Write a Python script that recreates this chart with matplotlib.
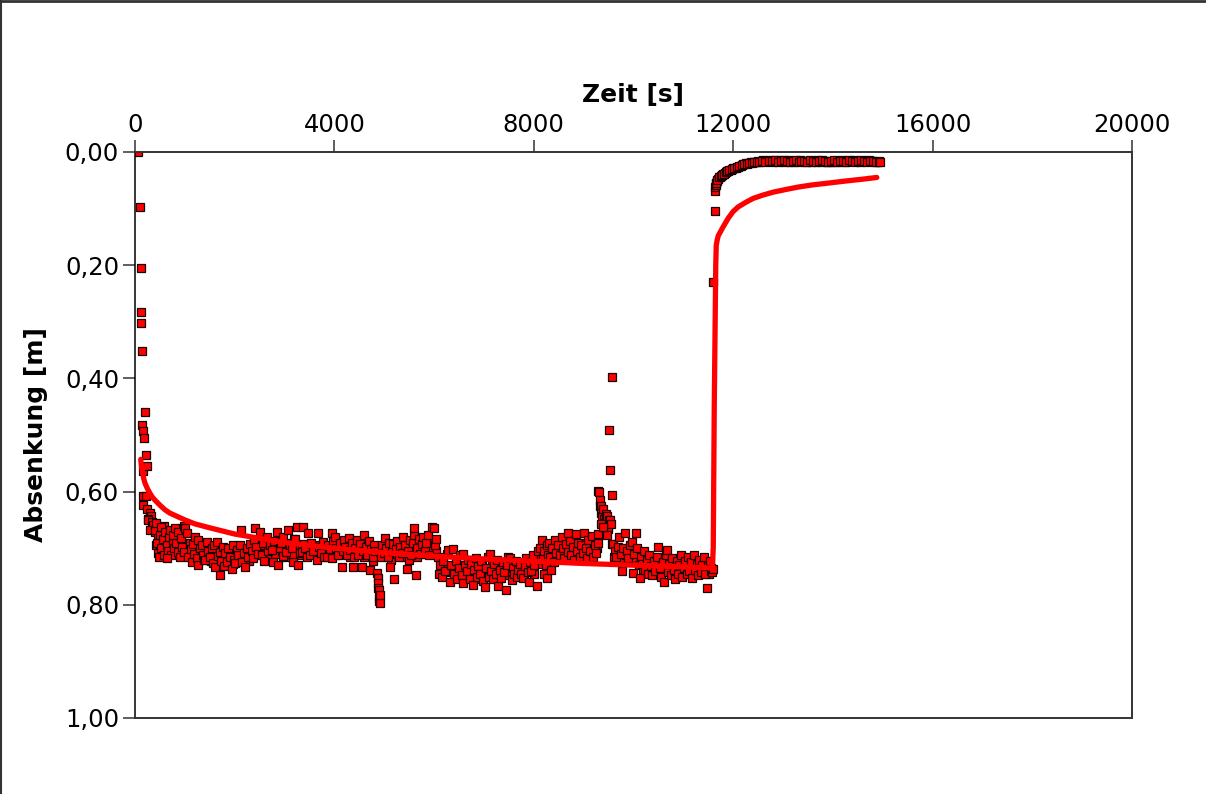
import matplotlib
matplotlib.use("Agg")
import matplotlib.pyplot as plt
from matplotlib.lines import Line2D

# ---------------- data ----------------
x_ticks = [0, 4000, 8000, 12000, 16000, 20000]
x_ticklabels = ["0", "4000", "8000", "12000", "16000", "20000"]
y_ticks = [0.0, 0.2, 0.4, 0.6, 0.8, 1.0]
y_ticklabels = ["0,00", "0,20", "0,40", "0,60", "0,80", "1,00"]
x_label = "Zeit [s]"
y_label = "Absenkung [m]"

# early drawdown points
t_early = [60, 100, 115, 118, 125, 135, 146, 166, 170, 175, 200, 220, 235,
           160, 230, 165, 250, 300, 320, 260, 270, 340, 370, 300, 400]
s_early = [0.000, 0.097, 0.205, 0.283, 0.302, 0.351, 0.482, 0.564, 0.493, 0.506,
           0.459, 0.535, 0.555, 0.608, 0.608, 0.624, 0.631, 0.637, 0.643, 0.648,
           0.650, 0.653, 0.659, 0.668, 0.671]

# pumping phase cloud
t_pump = [
    410, 440, 470, 500, 530, 560, 590, 420, 480, 520, 580,
    610, 640, 660, 690, 710, 730, 760, 780, 650, 770,
    805, 830, 860, 870, 900, 930, 950, 980, 990,
    1005, 1036, 1070, 1100, 1120, 1150, 1170, 1190,
    1210, 1240, 1270, 1270, 1300, 1337, 1360, 1390, 1404,
    1438, 1460, 1500, 1538, 1560, 1590, 1605,
    1638, 1660, 1705, 1705, 1730, 1760, 1790,
    1805, 1839, 1870, 1900, 1939, 1960, 1990,
    2006, 2040, 2073, 2110, 2127, 2140, 2180,
    2207, 2240, 2270, 2307, 2340, 2374, 2390,
    2407, 2430, 2460, 2508, 2541, 2570, 2590,
    2641, 2670, 2700, 2742, 2775, 2790,
    2842, 2875, 2900, 2930, 2960, 2976,
    3030, 3076, 3100, 3143, 3176, 3190,
    3210, 3243, 3277, 3300, 3344, 3377, 3390,
    3420, 3450, 3477, 3511, 3540, 3580,
    3644, 3678, 3700, 3740, 3778, 3790,
    3845, 3870, 3910, 3945, 3945, 3980,
    4010, 4040, 4080, 4110, 4146, 4170, 4190,
    4220, 4260, 4290, 4320, 4350, 4380, 4395,
    4420, 4450, 4480, 4510, 4547, 4570, 4600,
    4630, 4660, 4690, 4714, 4740, 4770, 4790,
    4820, 4850, 4870, 4880, 4880, 4890, 4900, 4895, 4905, 4910, 4930, 4960, 4990,
    5015, 5040, 5070, 5100, 5116, 5150, 5180,
    5203, 5230, 5260, 5290, 5320, 5350, 5380,
    5420, 5450, 5480, 5510, 5540, 5570, 5590,
    5604, 5637, 5660, 5690, 5720, 5750, 5780,
    5810, 5840, 5870, 5900, 5952, 5998, 6010, 6030,
    6080, 6110, 6152, 6180, 6220, 6250, 6286,
    6320, 6340, 6373, 6400, 6430, 6460, 6490,
    6520, 6550, 6587, 6587, 6620, 6650, 6690,
    6720, 6750, 6787, 6810, 6840, 6870, 6890,
    6920, 6950, 6980, 7021, 7050, 7080, 7095,
    7122, 7150, 7180, 7210, 7240, 7270, 7289,
    7320, 7350, 7380, 7410, 7443, 7470, 7490,
    7523, 7557, 7580, 7610, 7640, 7670, 7690,
    7720, 7750, 7791, 7820, 7850, 7880, 7900,
    7920, 7950, 7980, 8010, 8057, 8080,
    8125, 8158, 8180, 8210, 8240, 8270, 8290,
    8305, 8330, 8360, 8400, 8425, 8450, 8480,
    8520, 8558, 8580, 8610, 8640, 8679, 8690,
    8720, 8750, 8780, 8810, 8839, 8860, 8890,
    8920, 8950, 8980, 9013, 9040, 9070, 9090,
    9120, 9160, 9190, 9220, 9250, 9281, 9290,
    8200, 8260, 8350,
    9288, 9308, 9320, 9330, 9341, 9348, 9360, 9380, 9400, 9420, 9440, 9461,
    9481, 9495, 9510, 9508, 9528, 9540, 9562, 9569, 9528, 9470, 9350, 9390,
    9575, 9595, 9620, 9650, 9680, 9716, 9740, 9763, 9790,
    9830, 9860, 9890, 9920, 9963, 9983, 10010, 10050, 10080,
    10130, 10150, 10180, 10210, 10240, 10270, 10290,
    10320, 10350, 10380, 10410, 10440, 10470, 10500,
    10530, 10560, 10590, 10620, 10650, 10665, 10690,
    10720, 10750, 10780, 10810, 10840, 10870, 10890,
    10920, 10950, 10980, 11010, 11040, 11070, 11095,
    11120, 11150, 11180, 11210, 11240, 11270, 11290,
    11320, 11350, 11380, 11410, 11440, 11468, 11500, 11530, 11560, 11575, 11590,
]
s_pump = [
    0.668, 0.690, 0.708, 0.676, 0.700, 0.684, 0.660, 0.655, 0.715, 0.662, 0.712,
    0.672, 0.695, 0.705, 0.680, 0.668, 0.712, 0.690, 0.700, 0.718, 0.676,
    0.665, 0.690, 0.706, 0.671, 0.715, 0.682, 0.697, 0.707, 0.660,
    0.665, 0.674, 0.715, 0.690, 0.702, 0.725, 0.692, 0.710,
    0.681, 0.718, 0.686, 0.730, 0.700, 0.695, 0.712, 0.720, 0.721,
    0.689, 0.705, 0.716, 0.700, 0.727, 0.695, 0.733,
    0.689, 0.714, 0.706, 0.748, 0.722, 0.698, 0.731,
    0.709, 0.724, 0.700, 0.715, 0.736, 0.694, 0.720,
    0.727, 0.704, 0.712, 0.695, 0.667, 0.724, 0.708,
    0.733, 0.700, 0.715, 0.692, 0.705, 0.718, 0.685,
    0.665, 0.698, 0.710, 0.671, 0.712, 0.690, 0.722,
    0.680, 0.705, 0.694, 0.703, 0.724, 0.688,
    0.671, 0.730, 0.700, 0.690, 0.714, 0.680,
    0.706, 0.667, 0.695, 0.700, 0.724, 0.684,
    0.683, 0.662, 0.730, 0.708, 0.706, 0.662, 0.693,
    0.700, 0.716, 0.674, 0.712, 0.690, 0.705,
    0.721, 0.674, 0.698, 0.708, 0.689, 0.715,
    0.715, 0.694, 0.702, 0.674, 0.718, 0.688,
    0.680, 0.700, 0.712, 0.690, 0.734, 0.705, 0.685,
    0.698, 0.712, 0.682, 0.703, 0.690, 0.734, 0.716,
    0.700, 0.686, 0.712, 0.693, 0.734, 0.705, 0.676,
    0.698, 0.712, 0.688, 0.739, 0.702, 0.716, 0.694,
    0.705, 0.743, 0.752, 0.761, 0.770, 0.773, 0.788, 0.794, 0.797, 0.782, 0.715, 0.695, 0.708,
    0.682, 0.700, 0.715, 0.690, 0.734, 0.705, 0.693,
    0.755, 0.702, 0.688, 0.716, 0.698, 0.708, 0.680,
    0.695, 0.737, 0.705, 0.686, 0.712, 0.690, 0.676,
    0.664, 0.748, 0.700, 0.684, 0.710, 0.692, 0.680,
    0.705, 0.690, 0.676, 0.712, 0.662, 0.665, 0.695, 0.684,
    0.715, 0.730, 0.750, 0.722, 0.740, 0.710, 0.703,
    0.759, 0.730, 0.701, 0.745, 0.722, 0.755, 0.735,
    0.712, 0.748, 0.711, 0.762, 0.730, 0.740, 0.720,
    0.755, 0.728, 0.765, 0.738, 0.718, 0.750, 0.732,
    0.745, 0.722, 0.758, 0.769, 0.735, 0.715, 0.750,
    0.711, 0.740, 0.755, 0.728, 0.745, 0.720, 0.767,
    0.738, 0.752, 0.725, 0.742, 0.773, 0.730, 0.715,
    0.717, 0.757, 0.735, 0.745, 0.722, 0.750, 0.738,
    0.728, 0.745, 0.753, 0.732, 0.718, 0.742, 0.760,
    0.725, 0.740, 0.712, 0.730, 0.766, 0.705,
    0.700, 0.686, 0.718, 0.705, 0.730, 0.695, 0.712,
    0.690, 0.715, 0.700, 0.725, 0.685, 0.708, 0.694,
    0.712, 0.680, 0.700, 0.718, 0.692, 0.674, 0.706,
    0.688, 0.712, 0.698, 0.720, 0.675, 0.705, 0.690,
    0.715, 0.695, 0.708, 0.674, 0.700, 0.718, 0.686,
    0.705, 0.678, 0.715, 0.695, 0.708, 0.675, 0.690,
    0.745, 0.752, 0.738,
    0.599, 0.600, 0.615, 0.625, 0.625, 0.637, 0.643, 0.630, 0.648, 0.655, 0.640, 0.643,
    0.660, 0.666, 0.650, 0.491, 0.650, 0.658, 0.606, 0.398, 0.562, 0.676, 0.658, 0.662,
    0.692, 0.692, 0.705, 0.715, 0.698, 0.680, 0.710, 0.740, 0.700,
    0.674, 0.705, 0.718, 0.695, 0.689, 0.743, 0.710, 0.674, 0.700,
    0.752, 0.715, 0.728, 0.705, 0.738, 0.720, 0.745,
    0.712, 0.732, 0.748, 0.722, 0.740, 0.715, 0.698,
    0.735, 0.750, 0.725, 0.759, 0.712, 0.703, 0.742,
    0.728, 0.748, 0.718, 0.738, 0.755, 0.722, 0.745,
    0.730, 0.712, 0.750, 0.735, 0.722, 0.745, 0.715,
    0.740, 0.725, 0.752, 0.712, 0.738, 0.728, 0.748,
    0.720, 0.742, 0.730, 0.715, 0.745, 0.770, 0.732, 0.722, 0.740, 0.742, 0.737,
]

# additional readings filling the dense core of the pumping cloud (time, drawdown)
pump_core = [
    (425, 0.695), (455, 0.680), (505, 0.705), (545, 0.693), (575, 0.675), (625, 0.688),
    (675, 0.700), (720, 0.690), (745, 0.708), (795, 0.685), (845, 0.698), (885, 0.688),
    (915, 0.702), (965, 0.690), (1050, 0.700), (1085, 0.710), (1135, 0.695), (1185, 0.720),
    (1225, 0.700), (1285, 0.708), (1320, 0.715), (1375, 0.700), (1420, 0.710), (1480, 0.698),
    (1520, 0.722), (1575, 0.710), (1620, 0.718), (1680, 0.728), (1745, 0.712), (1775, 0.705),
    (1820, 0.716), (1855, 0.730), (1920, 0.705), (1975, 0.728), (2020, 0.715), (2090, 0.720),
    (2160, 0.700), (2220, 0.710), (2290, 0.722), (2355, 0.698), (2420, 0.712), (2480, 0.700),
    (2525, 0.695), (2620, 0.712), (2690, 0.718), (2720, 0.690), (2810, 0.710), (2860, 0.695),
    (2950, 0.705), (3010, 0.715), (3050, 0.690), (3120, 0.710), (3160, 0.712), (3230, 0.698),
    (3320, 0.712), (3360, 0.695), (3440, 0.705), (3500, 0.695), (3560, 0.712), (3620, 0.700),
    (3660, 0.710), (3720, 0.695), (3760, 0.702), (3820, 0.708), (3890, 0.712), (3960, 0.700),
    (4030, 0.712), (4100, 0.702), (4160, 0.695), (4240, 0.705), (4310, 0.715), (4370, 0.700),
    (4440, 0.710), (4530, 0.700), (4590, 0.715), (4650, 0.700), (4720, 0.708), (4780, 0.722),
    (4960, 0.712), (5030, 0.705), (5090, 0.700), (5140, 0.720), (5250, 0.710), (5300, 0.700),
    (5370, 0.715), (5440, 0.700), (5500, 0.720), (5560, 0.705), (5650, 0.715), (5710, 0.695),
    (5770, 0.705), (5830, 0.710), (5890, 0.695), (5930, 0.700), (5980, 0.688), (6040, 0.705),
    (6100, 0.745), (6200, 0.730), (6270, 0.742), (6360, 0.740), (6440, 0.735), (6510, 0.750),
    (6570, 0.738), (6640, 0.752), (6710, 0.740), (6770, 0.745), (6830, 0.755), (6900, 0.740),
    (6960, 0.732), (7030, 0.745), (7110, 0.740), (7170, 0.730), (7230, 0.752), (7300, 0.745),
    (7360, 0.735), (7430, 0.748), (7510, 0.740), (7590, 0.728), (7660, 0.742), (7740, 0.735),
    (7800, 0.745), (7870, 0.728), (7940, 0.732), (7995, 0.745), (8040, 0.720), (8100, 0.728),
    (8150, 0.712), (8230, 0.720), (8320, 0.702), (8380, 0.712), (8440, 0.698), (8500, 0.705),
    (8570, 0.712), (8630, 0.700), (8700, 0.695), (8770, 0.708), (8830, 0.700), (8900, 0.705),
    (8960, 0.715), (9030, 0.690), (9100, 0.698), (9180, 0.702), (9240, 0.685), (9270, 0.700),
    (9610, 0.715), (9700, 0.705), (9780, 0.718), (9850, 0.712), (9940, 0.705), (10040, 0.720),
    (10110, 0.730), (10200, 0.738), (10280, 0.728), (10340, 0.742), (10430, 0.730), (10510, 0.745),
    (10580, 0.738), (10640, 0.730), (10710, 0.742), (10790, 0.732), (10860, 0.740), (10940, 0.745),
    (11000, 0.728), (11060, 0.738), (11130, 0.732), (11200, 0.742), (11260, 0.735), (11330, 0.745),
    (11400, 0.738), (11460, 0.728), (11520, 0.745), (11550, 0.735),
]

# recovery points
t_recov = [11600, 11630, 11635, 11640, 11650, 11670, 11700, 11735, 11770, 11800,
           11835, 11870, 11900, 11950, 12000, 12050, 12100, 12150, 12200, 12250,
           12300, 12350, 12400, 12450, 12500, 12550, 12600, 12680, 12740, 12800,
           12860, 12920, 12980, 13040, 13100, 13160, 13220, 13280, 13340, 13400,
           13460, 13520, 13580, 13640, 13700, 13760, 13820, 13880, 13940, 14000,
           14060, 14120, 14180, 14240, 14300, 14360, 14420, 14480, 14540, 14600,
           14660, 14720, 14780, 14840, 14900,
           11645, 11660, 11685, 11720, 11750, 11785, 11815, 11850, 11885, 11925,
           11975, 12025, 12075, 12125, 12175, 12225, 12275, 12325, 12375, 12425,
           12475, 12525, 12575, 12640, 12710, 12770, 12830, 12890, 12950, 13010,
           13070, 13130, 13190, 13250, 13310, 13370, 13430, 13490, 13550, 13610,
           13670, 13730, 13790, 13850, 13910, 13970, 14030, 14090, 14150, 14210,
           14270, 14330, 14390, 14450, 14510, 14570, 14630, 14690, 14750, 14810,
           14870, 14925, 14945]
s_recov = [0.230, 0.104, 0.069, 0.061, 0.055, 0.052, 0.047, 0.044, 0.041, 0.039,
           0.037, 0.034, 0.033, 0.031, 0.029, 0.028, 0.026, 0.024, 0.022, 0.020,
           0.019, 0.018, 0.017, 0.017, 0.016, 0.016, 0.015, 0.016, 0.015, 0.017,
           0.016, 0.015, 0.016, 0.017, 0.015, 0.016, 0.017, 0.016, 0.015, 0.016,
           0.017, 0.016, 0.018, 0.016, 0.015, 0.017, 0.016, 0.017, 0.018, 0.016,
           0.017, 0.016, 0.015, 0.017, 0.016, 0.016, 0.015, 0.016, 0.017, 0.016,
           0.016, 0.015, 0.016, 0.017, 0.017,
           0.058, 0.054, 0.050, 0.045, 0.043, 0.040, 0.038, 0.036, 0.034, 0.032,
           0.030, 0.029, 0.027, 0.025, 0.023, 0.022, 0.021, 0.020, 0.019, 0.018,
           0.018, 0.017, 0.016, 0.017, 0.016, 0.016, 0.015, 0.017, 0.016, 0.015,
           0.016, 0.017, 0.016, 0.015, 0.017, 0.016, 0.016, 0.017, 0.015, 0.016,
           0.017, 0.016, 0.015, 0.016, 0.017, 0.016, 0.015, 0.017, 0.016, 0.016,
           0.017, 0.015, 0.016, 0.017, 0.016, 0.015, 0.016, 0.017, 0.016, 0.016,
           0.017, 0.016, 0.018]

# fitted curve
t_fit = [115, 130, 150, 175, 200, 250, 300, 350, 400, 500, 600, 700, 800, 1000,
         1200, 1500, 2000, 3000, 4000, 5000, 6000, 7000, 8000, 9000, 10000,
         11000, 11580, 11600, 11620, 11650, 11660, 11680, 11700, 11750, 11800,
         11900, 12000, 12100, 12270, 12400, 12600, 12800, 13070, 13300, 13600,
         13900, 14280, 14600, 14880]
s_fit = [0.543, 0.556, 0.565, 0.577, 0.585, 0.595, 0.603, 0.610, 0.615, 0.624,
         0.632, 0.638, 0.642, 0.650, 0.657, 0.664, 0.675, 0.690, 0.700, 0.708,
         0.714, 0.719, 0.723, 0.727, 0.730, 0.733, 0.735, 0.700, 0.450, 0.200,
         0.165, 0.155, 0.148, 0.140, 0.132, 0.117, 0.105, 0.097, 0.088, 0.082,
         0.076, 0.071, 0.066, 0.062, 0.058, 0.055, 0.051, 0.048, 0.045]

# ---------------- figure ----------------
W, H = 1206, 794
fig = plt.figure(figsize=(W / 100, H / 100), dpi=100)
ax = fig.add_axes([135 / W, 1 - 718 / H, (1132 - 135) / W, (718 - 152) / H])

mk = dict(linestyle="none", marker="s", markersize=5.2, markerfacecolor="#ff0000",
          markeredgecolor="#1a0000", markeredgewidth=0.9, zorder=2)
core_t = [p[0] for p in pump_core]
core_s = [p[1] for p in pump_core]
ax.plot(t_early, s_early, **mk)
ax.plot(core_t, core_s, **mk)
ax.plot(t_pump, s_pump, **mk)
ax.plot(t_recov, s_recov, **mk)
ax.plot(t_fit, s_fit, color="#ff0000", linewidth=3.8, solid_capstyle="round",
        solid_joinstyle="round", zorder=3)

ax.set_xlim(0, 20000)
ax.set_ylim(1.0, 0.0)
ax.xaxis.tick_top()
ax.xaxis.set_label_position("top")
ax.set_xticks(x_ticks)
ax.set_xticklabels(x_ticklabels)
ax.set_yticks(y_ticks)
ax.set_yticklabels(y_ticklabels)
ax.tick_params(axis="both", which="both", direction="out", length=8.5, width=1.1,
               color="#333333", labelsize=17.5, pad=3, labelcolor="black")
ax.tick_params(axis="x", pad=2)

ax.set_xlabel(x_label, fontsize=18, fontweight="bold", labelpad=8)
ax.set_ylabel(y_label, fontsize=18, fontweight="bold", labelpad=12)

for sp in ax.spines.values():
    sp.set_color("#333333")
    sp.set_linewidth(1.4)
ax.spines["left"].set_color("black")
ax.spines["left"].set_linewidth(1.1)

# outer frame (top and left edges visible)
fig.add_artist(Line2D([0, 1], [1 - 1 / H, 1 - 1 / H], transform=fig.transFigure,
                      color="#333333", linewidth=2.0))
fig.add_artist(Line2D([1 / W, 1 / W], [0, 1], transform=fig.transFigure,
                      color="#333333", linewidth=1.5))

fig.savefig("out.png", dpi=100, facecolor="white")
